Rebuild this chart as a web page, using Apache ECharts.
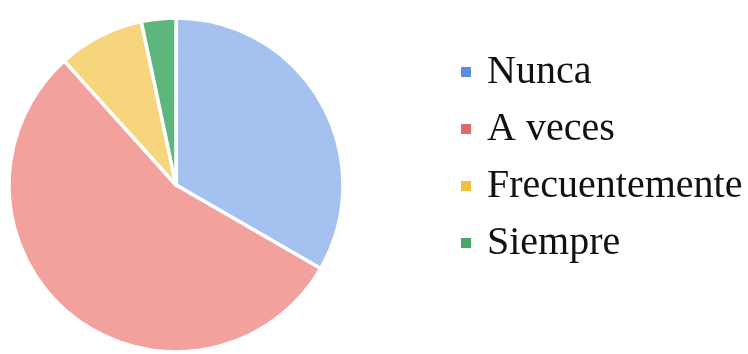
<!DOCTYPE html>
<html>
<head>
<meta charset="utf-8">
<script src="https://cdn.jsdelivr.net/npm/echarts@6/dist/echarts.min.js"></script>
<style>
  html, body { margin: 0; padding: 0; background: #ffffff; }
  #chart { width: 748px; height: 354px; }
</style>
</head>
<body>
<div id="chart"></div>
<script>
// Answer categories and response counts
const categories = ['Nunca', 'A veces', 'Frecuentemente', 'Siempre'];
const counts = [20, 33, 5, 2];

// Pale slice fills and stronger legend swatches
const sliceColors = ['#a5c1f0', '#f2a19d', '#f7d57c', '#5db77d'];
const swatchColors = ['#5a8de2', '#e06868', '#f0c13a', '#45a867'];

const chart = echarts.init(document.getElementById('chart'), null, { renderer: 'canvas' });

const data = categories.map((name, i) => ({
  name: name,
  value: counts[i],
  itemStyle: { color: sliceColors[i] }
}));

chart.setOption({
  animation: false,
  backgroundColor: '#ffffff',
  legend: {
    orient: 'vertical',
    left: 454,
    top: 47,
    icon: 'rect',
    itemWidth: 12,
    itemHeight: 12,
    itemGap: 17,
    selectedMode: false,
    textStyle: {
      fontFamily: '"Liberation Serif", "DejaVu Serif", serif',
      fontSize: 40,
      color: '#111111',
      padding: [0, 0, 0, 10]
    },
    data: categories.map((name, i) => ({
      name: name,
      itemStyle: { color: swatchColors[i] }
    }))
  },
  series: [{
    type: 'pie',
    center: [176, 185],
    radius: ['0%', 167],
    startAngle: 90,
    clockwise: true,
    label: { show: false },
    labelLine: { show: false },
    itemStyle: { borderColor: '#ffffff', borderWidth: 3.5 },
    emphasis: { disabled: true },
    data: data
  }]
});
</script>
</body>
</html>
